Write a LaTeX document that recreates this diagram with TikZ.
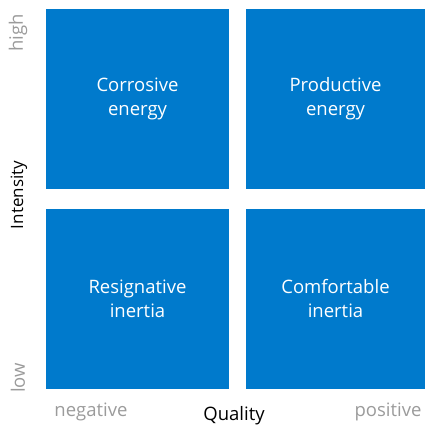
\documentclass[tikz,border=0pt]{standalone}
\usepackage{fontspec}
\setmainfont{Open Sans}
\usepackage{tikz}
\usepackage{xcolor}
\usetikzlibrary{positioning}
\definecolor{quadblue}{RGB}{0,122,204}
\definecolor{axisgray}{RGB}{155,155,155}

\tikzset{
    quad/.style={fill=quadblue, text=white, align=center, inner sep=0pt,
        minimum width=181pt, minimum height=180pt,
        font=\fontsize{18.5}{24}\selectfont},
    tick/.style={text=axisgray, inner sep=0pt, font=\fontsize{18.5}{22}\selectfont},
    axis/.style={text=black, inner sep=0pt, font=\fontsize{18.5}{22}\selectfont}
}

\begin{document}
\begin{tikzpicture}[x=1pt,y=1pt]
    \useasboundingbox (0,0) rectangle (426,428);

    % Quadrants
    \node[quad, minimum width=183pt] (corrosive) at (137.5,329) {Corrosive\\energy};
    \node[quad, minimum width=179pt] (productive) at (335.5,329) {Productive\\energy};
    \node[quad, minimum width=183pt] (resignative) at (137.5,129) {Resignative\\inertia};
    \node[quad, minimum width=179pt] (comfortable) at (335.5,129) {Comfortable\\inertia};

    % Vertical axis
    \node[tick, rotate=90] (high) at (18,395) {high};
    \node[tick, rotate=90] (low) at (18,50) {low};
    \node[axis, rotate=90, font=\fontsize{17}{20}\selectfont] (intensity) at (19,233) {Intensity};

    % Horizontal axis
    \node[tick] (negative) at (91,16) {negative};
    \node[axis] (quality) at (234,12) {Quality};
    \node[tick] (positive) at (388,16) {positive};
\end{tikzpicture}
\end{document}
